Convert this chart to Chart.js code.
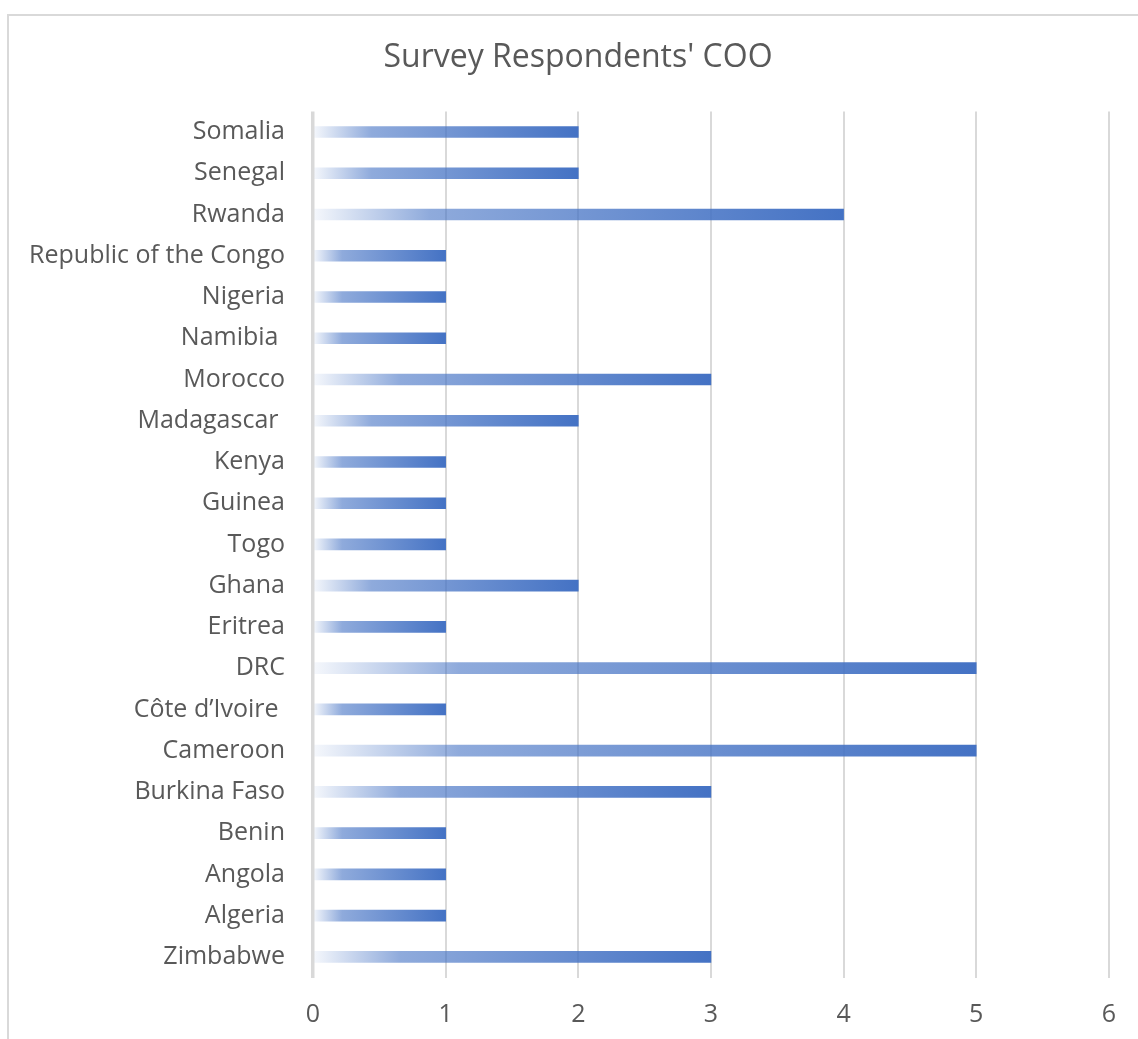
<!DOCTYPE html>
<html>
<head>
<meta charset="utf-8">
<script src="https://cdn.jsdelivr.net/npm/chart.js@4/dist/chart.umd.min.js"></script>
<style>
  html, body { margin: 0; padding: 0; background: #ffffff; }
  #wrap { position: relative; width: 1138px; height: 1039px; }
</style>
</head>
<body>
<div id="wrap"><canvas id="chart" width="1138" height="1039"></canvas></div>
<script>
// Countries of origin, listed top to bottom as they appear on the axis
const countries = [
  "Somalia", "Senegal", "Rwanda", "Republic of the Congo", "Nigeria",
  "Namibia ", "Morocco", "Madagascar ", "Kenya", "Guinea", "Togo",
  "Ghana", "Eritrea", "DRC", "Côte d’Ivoire ", "Cameroon",
  "Burkina Faso", "Benin", "Angola", "Algeria", "Zimbabwe"
];
// Number of respondents per country
const respondents = [
  2, 2, 4, 1, 1,
  1, 3, 2, 1, 1, 1,
  2, 1, 5, 1, 5,
  3, 1, 1, 1, 3
];
const xTicks = [0, 1, 2, 3, 4, 5, 6];
const chartTitle = "Survey Respondents' COO";

const BLUE = [68, 114, 196];
const rgba = (a) => `rgba(${BLUE[0]},${BLUE[1]},${BLUE[2]},${a})`;

// Horizontal fade from near-white at the baseline to solid blue at the bar end
function barGradient(ctx) {
  const chart = ctx.chart;
  if (!chart.chartArea || ctx.raw == null) return rgba(1);
  const xs = chart.scales.x;
  const x0 = xs.getPixelForValue(0);
  const x1 = xs.getPixelForValue(ctx.raw);
  const g = chart.ctx.createLinearGradient(x0, 0, x1, 0);
  g.addColorStop(0, rgba(0.05));
  g.addColorStop(0.22, rgba(0.6));
  g.addColorStop(1, rgba(1));
  return g;
}

// Light frame around the chart, and the title nudged to sit over the centre of the frame
const framePlugin = {
  id: 'frame',
  afterLayout(chart) {
    if (chart.titleBlock) chart.titleBlock.left += 40;
  },
  beforeDraw(chart) {
    const c = chart.ctx;
    c.save();
    c.fillStyle = '#ffffff';
    c.fillRect(0, 0, chart.width, chart.height);
    c.strokeStyle = '#d9d9d9';
    c.lineWidth = 2;
    c.strokeRect(8, 15, chart.width + 20, chart.height + 20);
    c.restore();
  }
};

const FONT = "'Open Sans', 'DejaVu Sans', sans-serif";
const TEXT = '#595959';

new Chart(document.getElementById('chart'), {
  type: 'bar',
  data: {
    labels: countries,
    datasets: [{
      data: respondents,
      backgroundColor: barGradient,
      borderWidth: 0,
      barThickness: 11
    }]
  },
  plugins: [framePlugin],
  options: {
    indexAxis: 'y',
    responsive: false,
    animation: false,
    layout: { padding: { left: 0, right: 22, top: 0, bottom: 0 } },
    plugins: {
      legend: { display: false },
      tooltip: { enabled: false },
      title: {
        display: true,
        text: chartTitle,
        color: TEXT,
        font: { family: FONT, size: 32, weight: 'normal' },
        padding: { top: 39, bottom: 34 }
      }
    },
    scales: {
      x: {
        min: 0,
        max: 6,
        afterBuildTicks(scale) { scale.ticks = xTicks.map(v => ({ value: v })); },
        afterFit(scale) { scale.height = 61.5; },
        grid: {
          color: '#d9d9d9',
          lineWidth: (c) => (c.index === 0 ? 3.5 : 2),
          drawTicks: false
        },
        border: { display: false },
        ticks: {
          color: TEXT,
          font: { family: FONT, size: 25 },
          padding: 22
        }
      },
      y: {
        afterFit(scale) { scale.width = 313; },
        grid: { display: false, drawTicks: false },
        border: { display: false },
        ticks: {
          color: TEXT,
          font: { family: FONT, size: 25 },
          padding: 28,
          autoSkip: false
        }
      }
    }
  }
});
</script>
</body>
</html>
